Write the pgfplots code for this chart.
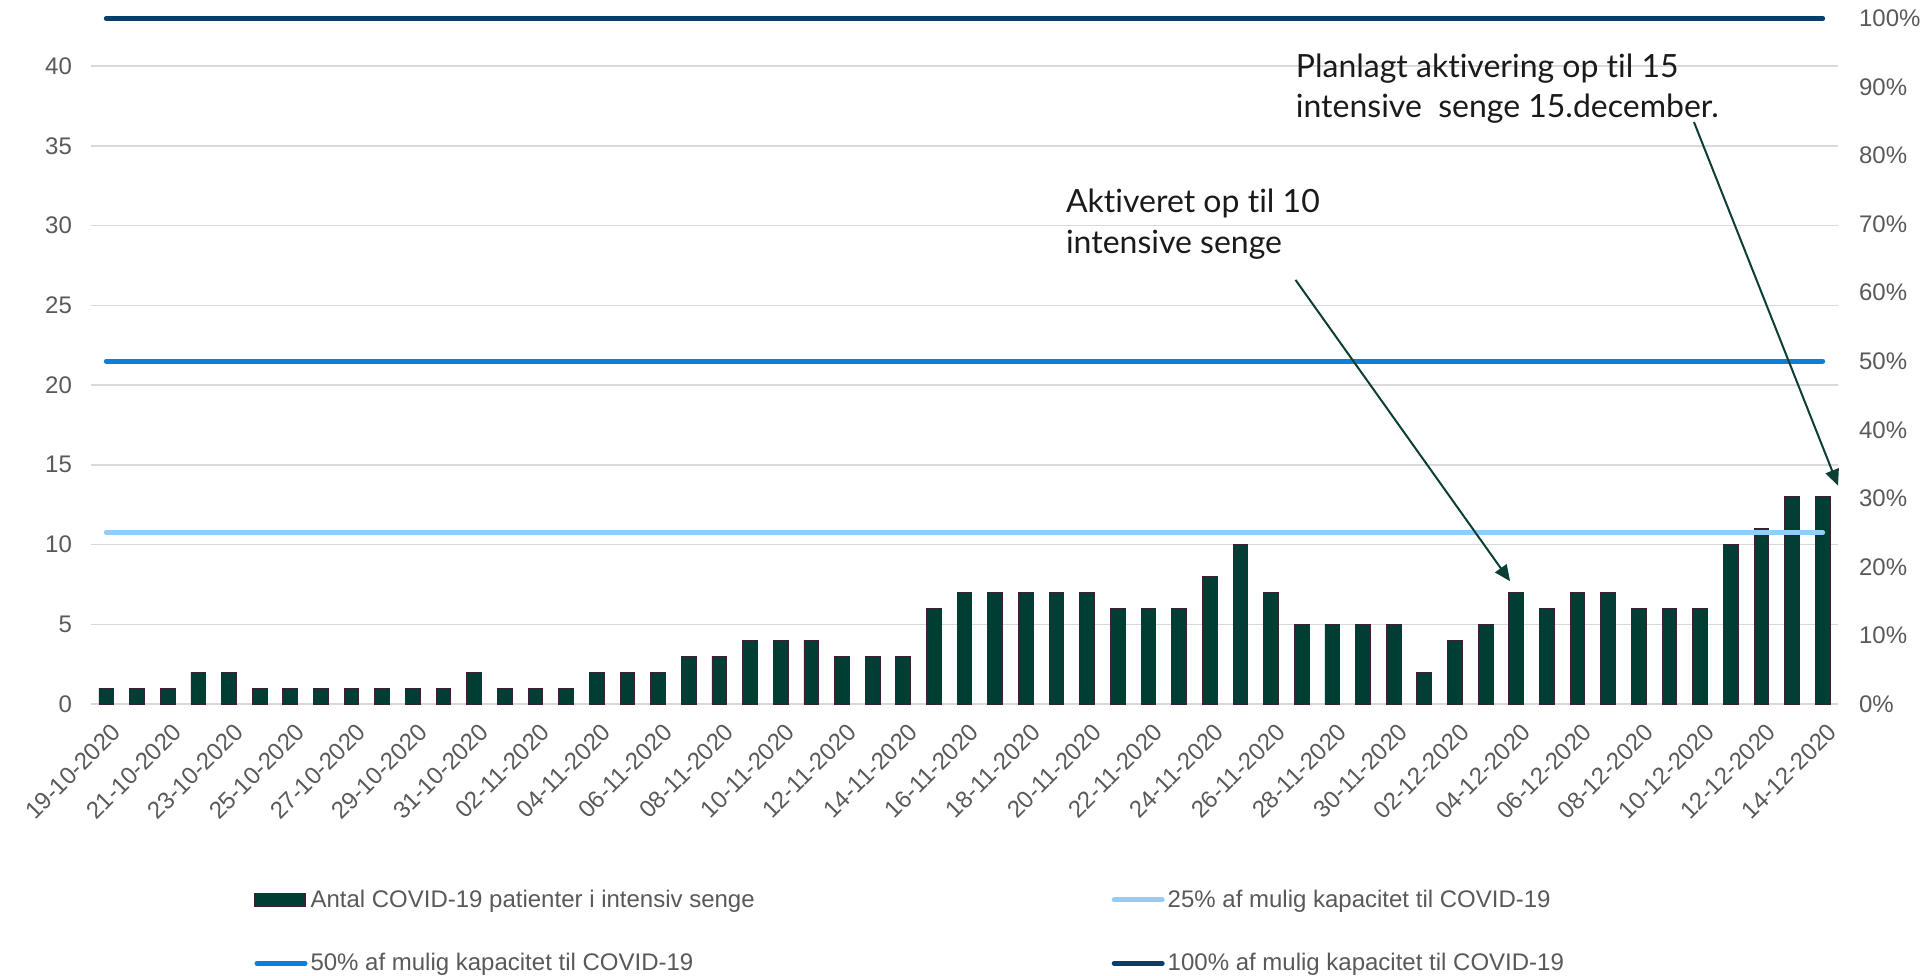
\documentclass[border=0pt]{standalone}
\usepackage{fontspec}
\setmainfont{Liberation Sans}
\newfontfamily\annfont[Ligatures={NoCommon}]{Lato}
\usepackage{pgfplots}
\usepackage{pgfplotstable}
\pgfplotsset{compat=1.18}
\usetikzlibrary{arrows.meta}
\definecolor{bargreen}{HTML}{003D33}
\definecolor{barborder}{HTML}{3A2035}
\definecolor{lightblue}{HTML}{92CDF9}
\definecolor{midblue}{HTML}{0A80DC}
\definecolor{darkblue}{HTML}{063F6E}
\definecolor{gridgray}{HTML}{D9D9D9}
\definecolor{ticktext}{HTML}{595959}
\definecolor{arrowgreen}{HTML}{0B3F35}
\definecolor{annblack}{HTML}{1A1A1A}

\pgfplotstableread{
x y
0 1
1 1
2 1
3 2
4 2
5 1
6 1
7 1
8 1
9 1
10 1
11 1
12 2
13 1
14 1
15 1
16 2
17 2
18 2
19 3
20 3
21 4
22 4
23 4
24 3
25 3
26 3
27 6
28 7
29 7
30 7
31 7
32 7
33 6
34 6
35 6
36 8
37 10
38 7
39 5
40 5
41 5
42 5
43 2
44 4
45 5
46 7
47 6
48 7
49 7
50 6
51 6
52 6
53 10
54 11
55 13
56 13
}\icudata

\begin{document}
\begin{tikzpicture}
\pgfplotsset{common/.style={scale only axis, width=873.5pt, height=342.8pt,
  xmin=-0.5, xmax=56.5, ymin=0, clip=false,
  axis line style={draw=none}, major tick length=0pt,
  tick label style={font=\fontsize{12}{14}\selectfont, color=ticktext},
  /pgf/number format/assume math mode=true}}
\begin{axis}[common, name=main, ymax=43,
  ytick={0,5,...,40}, ymajorgrids, grid style={gridgray, line width=0.75pt},
  yticklabel style={xshift=-6pt},
  xtick={0,2,...,56},
  xticklabels={19-10-2020,21-10-2020,23-10-2020,25-10-2020,27-10-2020,29-10-2020,31-10-2020,02-11-2020,04-11-2020,06-11-2020,08-11-2020,10-11-2020,12-11-2020,14-11-2020,16-11-2020,18-11-2020,20-11-2020,22-11-2020,24-11-2020,26-11-2020,28-11-2020,30-11-2020,02-12-2020,04-12-2020,06-12-2020,08-12-2020,10-12-2020,12-12-2020,14-12-2020},
  xticklabel style={rotate=45, anchor=east, yshift=-12pt, xshift=-1.5pt},
  legend columns=2,
  legend style={draw=none, at={(rel axis cs:0.0933,-0.266)}, anchor=north west,
    font=\fontsize{12}{14}\selectfont, text=ticktext, inner sep=0pt,
    nodes={inner sep=1.5pt},
    /tikz/every even column/.append style={column sep=177pt},
    row sep=18.5pt},
  legend cell align=left]
\addplot[ybar, bar width=0.48, fill=bargreen, draw=barborder, line width=0.4pt,
  legend image code/.code={\draw[fill=bargreen, draw=barborder, line width=0.6pt] (0pt,-3.4pt) rectangle (25pt,3.4pt);}]
  table[x=x,y=y]{\icudata};
\addlegendentry{Antal COVID-19 patienter i intensiv senge}
\addplot[lightblue, line width=2.5pt, line cap=round,
  legend image code/.code={\draw[lightblue, line width=2.5pt, line cap=round] (1pt,0pt) -- (25pt,0pt);}]
  coordinates {(0,10.75) (56,10.75)};
\addlegendentry{25\% af mulig kapacitet til COVID-19}
\addplot[midblue, line width=2.5pt, line cap=round,
  legend image code/.code={\draw[midblue, line width=2.5pt, line cap=round] (1pt,0pt) -- (25pt,0pt);}]
  coordinates {(0,21.5) (56,21.5)};
\addlegendentry{50\% af mulig kapacitet til COVID-19}
\addplot[darkblue, line width=2.5pt, line cap=round,
  legend image code/.code={\draw[darkblue, line width=2.5pt, line cap=round] (1pt,0pt) -- (25pt,0pt);}]
  coordinates {(0,43) (56,43)};
\addlegendentry{100\% af mulig kapacitet til COVID-19}

\node[anchor=north west, align=left, inner sep=0pt, text=annblack,
  font=\annfont\fontsize{16}{20.2}\selectfont] at (axis cs:31.3,32.3)
  {Aktiveret op til 10\\intensive senge};
\node[anchor=north west, align=left, inner sep=0pt, text=annblack,
  font=\annfont\fontsize{16}{20.2}\selectfont] at (axis cs:38.8,40.8)
  {Planlagt aktivering op til 15\\intensive\ \ senge 15.december.};
\draw[arrowgreen, line width=1pt, -{Triangle[length=8pt,width=7pt]}]
  (axis cs:38.8,26.6) -- (axis cs:45.8,7.7);
\draw[arrowgreen, line width=1pt, -{Triangle[length=8pt,width=7pt]}]
  (axis cs:51.8,36.5) -- (axis cs:56.5,13.7);
\end{axis}
\begin{axis}[common, ymax=100, ytick={0,10,...,100},
  yticklabel={\pgfmathprintnumber{\tick}\%},
  yticklabel style={xshift=7pt},
  axis x line=none, axis y line*=right, xtick=\empty]
\addplot[draw=none] coordinates {(0,0)};
\end{axis}
\pgfresetboundingbox
\path[use as bounding box] ([xshift=-45.5pt]main.south west) ++(0,-135.5pt) rectangle ++(960.5pt,487.5pt);
\end{tikzpicture}
\end{document}
